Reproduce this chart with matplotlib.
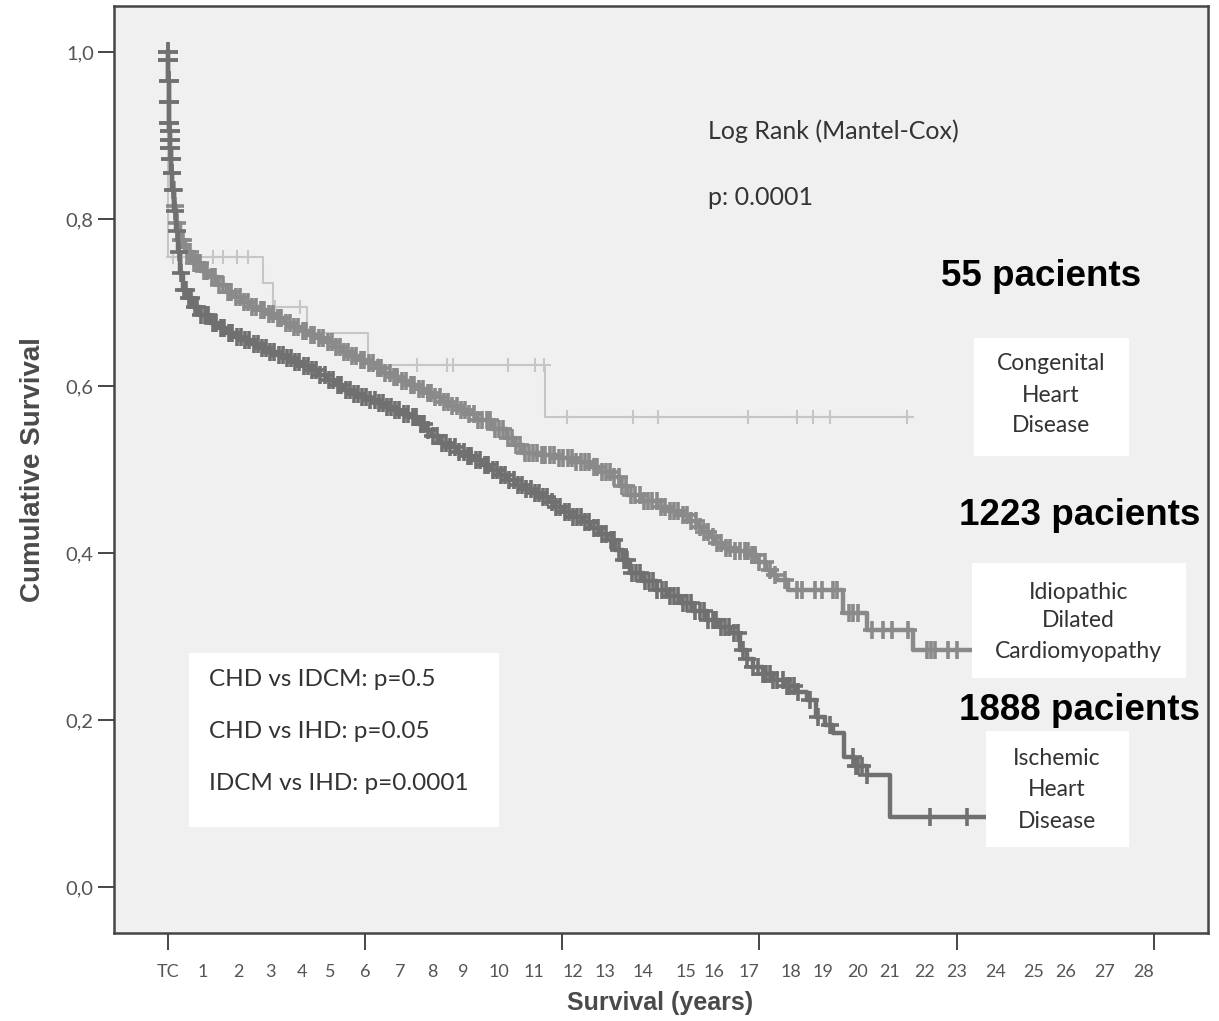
import numpy as np
import matplotlib
matplotlib.use("Agg")
import matplotlib.pyplot as plt
from matplotlib.patches import Rectangle

# ---- datos (tiempo en años, supervivencia acumulada) ----
ihd_t = [0, 0.005, 0.015, 0.025, 0.035, 0.045, 0.055, 0.065, 0.08, 0.1, 0.13, 0.17, 0.22,
         0.28, 0.35, 0.43, 0.55, 0.71, 0.9, 1.19, 1.45, 1.68, 1.9, 2.13, 2.37, 2.61, 2.85,
         3.1, 3.33, 3.55, 3.8, 4.03, 4.27, 4.52, 4.75, 4.97, 5.2, 5.45, 5.7, 5.94, 6.15,
         6.39, 6.6, 6.87, 7.1, 7.3, 7.5, 7.73, 7.95, 8.2, 8.45, 8.67, 8.9, 9.15, 9.4, 9.62,
         9.85, 10.1, 10.35, 10.57, 10.8, 11.0, 11.25, 11.5, 11.75, 12.0, 12.25, 12.47, 12.7,
         12.92, 13.12, 13.5, 13.89, 14.2, 14.54, 14.9, 15.31, 15.65, 15.96, 16.25, 16.45,
         16.61, 16.9, 17.18, 17.5, 17.86, 18.15, 18.4, 18.65, 18.9, 19.2, 19.5, 19.85, 20.5]
ihd_s = [1.0, 0.99, 0.965, 0.94, 0.915, 0.905, 0.895, 0.885, 0.872, 0.855, 0.835, 0.81,
         0.785, 0.76, 0.735, 0.715, 0.705, 0.695, 0.685, 0.675, 0.669, 0.663, 0.659, 0.655,
         0.650, 0.646, 0.641, 0.637, 0.633, 0.629, 0.624, 0.619, 0.613, 0.607, 0.601, 0.595,
         0.591, 0.587, 0.583, 0.580, 0.575, 0.571, 0.567, 0.563, 0.555, 0.547, 0.540, 0.532,
         0.527, 0.521, 0.516, 0.511, 0.505, 0.499, 0.493, 0.487, 0.482, 0.477, 0.472, 0.467,
         0.461, 0.455, 0.449, 0.443, 0.437, 0.430, 0.423, 0.416, 0.404, 0.392, 0.376, 0.366,
         0.356, 0.348, 0.340, 0.330, 0.320, 0.312, 0.304, 0.284, 0.273, 0.263, 0.255, 0.248,
         0.241, 0.234, 0.224, 0.204, 0.194, 0.184, 0.156, 0.145, 0.134, 0.084]
ihd_end = 23.2
ihd_cens = [0.003, 0.012, 0.02, 0.03, 0.04, 0.05, 0.06, 0.07, 0.09, 0.11, 0.15, 0.19, 0.25,
            0.31, 0.38, 0.46, 0.52, 0.6, 0.66, 0.76, 0.83, 0.95, 1.05, 1.15, 1.27, 1.36, 1.5,
            1.6, 1.73, 1.83, 1.97, 2.08, 2.2, 2.3, 2.44, 2.55, 2.67, 2.78, 2.9, 3.02, 3.15,
            3.26, 3.38, 3.5, 3.62, 3.73, 3.86, 3.97, 4.1, 4.2, 4.33, 4.45, 4.58, 4.7, 4.82,
            4.93, 5.05, 5.16, 5.28, 5.4, 5.52, 5.63, 5.75, 5.88, 6.0, 6.1, 6.22, 6.35, 6.46,
            6.57, 6.7, 6.82, 6.95, 7.05, 7.18, 7.28, 7.4, 7.52, 7.64, 7.78, 7.9, 8.02, 8.15,
            8.27, 8.4, 8.52, 8.62, 8.75, 8.87, 9.0, 9.1, 9.23, 9.35, 9.47, 9.58, 9.7, 9.82,
            9.95, 10.05, 10.18, 10.3, 10.42, 10.53, 10.65, 10.77, 10.9, 11.02, 11.13, 11.27,
            11.38, 11.5, 11.62, 11.73, 11.85, 11.97, 12.1, 12.22, 12.33, 12.45, 12.58, 12.68,
            12.8, 12.95, 13.05, 13.18, 13.3, 13.42, 13.55, 13.66, 13.78, 13.9, 14.03, 14.15,
            14.27, 14.38, 14.5, 14.63, 14.75, 14.86, 14.98, 15.1, 15.22, 15.35, 15.47, 15.58,
            15.7, 15.83, 15.95, 16.07, 16.2, 16.33, 16.45, 16.61, 16.75, 16.9, 17.0, 17.1,
            17.2, 17.3, 17.47, 17.58, 17.67, 17.78, 17.89, 18.23, 18.46, 18.8, 19.45, 19.55,
            19.6, 19.72, 19.86, 21.64, 22.69]

idcm_t = [0, 0.005, 0.015, 0.025, 0.035, 0.045, 0.055, 0.065, 0.08, 0.1, 0.13, 0.17, 0.22,
          0.34, 0.5, 0.71, 0.95, 1.19, 1.43, 1.68, 1.9, 2.13, 2.37, 2.61, 2.85, 3.1, 3.33,
          3.55, 3.8, 4.03, 4.27, 4.52, 4.75, 4.97, 5.2, 5.45, 5.7, 5.94, 6.15, 6.39, 6.6,
          6.87, 7.1, 7.36, 7.55, 7.81, 8.05, 8.29, 8.5, 8.78, 9.2, 9.62, 9.85, 10.09, 10.6,
          11.05, 11.5, 11.99, 12.3, 12.64, 12.85, 13.04, 13.45, 13.89, 14.2, 14.54, 14.8,
          15.02, 15.2, 15.39, 15.55, 15.76, 16.1, 16.53, 16.75, 17.0, 17.15, 17.3, 17.6,
          19.17, 19.85, 21.16]
idcm_s = [1.0, 0.99, 0.965, 0.94, 0.915, 0.905, 0.895, 0.885, 0.872, 0.855, 0.835, 0.815,
          0.795, 0.775, 0.76, 0.747, 0.738, 0.730, 0.721, 0.713, 0.706, 0.700, 0.695, 0.691,
          0.686, 0.681, 0.676, 0.671, 0.666, 0.661, 0.657, 0.653, 0.647, 0.641, 0.636, 0.631,
          0.627, 0.622, 0.616, 0.611, 0.606, 0.601, 0.596, 0.592, 0.587, 0.581, 0.576, 0.571,
          0.566, 0.559, 0.549, 0.538, 0.529, 0.520, 0.517, 0.514, 0.509, 0.503, 0.497, 0.491,
          0.480, 0.469, 0.462, 0.455, 0.450, 0.446, 0.438, 0.431, 0.425, 0.419, 0.412, 0.406,
          0.402, 0.398, 0.389, 0.380, 0.374, 0.368, 0.356, 0.328, 0.308, 0.284]
idcm_end = 22.8
idcm_cens = [0.004, 0.01, 0.018, 0.028, 0.038, 0.048, 0.058, 0.068, 0.085, 0.12, 0.16, 0.2,
             0.27, 0.36, 0.44, 0.55, 0.63, 0.74, 0.82, 0.92, 1.02, 1.12, 1.24, 1.33, 1.46,
             1.56, 1.7, 1.8, 1.94, 2.04, 2.17, 2.27, 2.4, 2.5, 2.64, 2.74, 2.88, 2.98, 3.12,
             3.22, 3.36, 3.46, 3.58, 3.7, 3.83, 3.93, 4.06, 4.16, 4.3, 4.4, 4.55, 4.65, 4.78,
             4.88, 5.0, 5.12, 5.24, 5.34, 5.48, 5.58, 5.72, 5.82, 5.96, 6.06, 6.18, 6.3, 6.42,
             6.52, 6.64, 6.76, 6.9, 7.0, 7.13, 7.24, 7.38, 7.48, 7.6, 7.72, 7.84, 7.96, 8.08,
             8.2, 8.32, 8.44, 8.55, 8.68, 8.8, 8.92, 9.05, 9.15, 9.28, 9.4, 9.52, 9.65, 9.77,
             9.9, 10.0, 10.13, 10.25, 10.38, 10.48, 10.62, 10.72, 10.85, 10.97, 11.1, 11.22,
             11.35, 11.47, 11.6, 11.72, 11.85, 11.97, 12.1, 12.2, 12.33, 12.45, 12.56, 12.68,
             12.8, 12.9, 13.02, 13.15, 13.27, 13.4, 13.52, 13.64, 13.76, 13.88, 14.0, 14.12,
             14.25, 14.37, 14.5, 14.62, 14.75, 14.87, 15.0, 15.1, 15.22, 15.35, 15.47, 15.6,
             15.72, 15.85, 15.97, 16.1, 16.25, 16.38, 16.47, 16.6, 16.67, 16.8, 16.96, 17.1,
             17.24, 17.52, 17.87, 18.0, 18.38, 18.57, 18.88, 19.0, 19.34, 19.45, 19.6, 19.99,
             20.31, 20.56, 21.02, 21.56, 21.67, 21.78, 22.15, 22.41]

chd_t = [0, 0.01, 2.7, 2.98, 3.95, 5.68, 10.72]
chd_s = [1.0, 0.754, 0.723, 0.695, 0.663, 0.625, 0.563]
chd_end = 21.16
chd_cens = [0.14, 0.4, 0.54, 1.28, 1.56, 1.96, 2.27, 3.04, 3.75, 5.96, 7.07, 7.92, 8.09,
            9.66, 10.42, 10.68, 11.33, 13.21, 13.92, 16.47, 17.86, 18.32, 18.8, 20.99]

# etiquetas del eje x (posiciones tal como aparecen en la figura)
xlabels = ["TC"] + [str(i) for i in range(1, 29)]
xlabel_pos = [0, 1.0, 2.0, 2.9, 3.8, 4.6, 5.6, 6.6, 7.5, 8.4, 9.4, 10.4, 11.5, 12.4, 13.5,
              14.7, 15.5, 16.5, 17.7, 18.6, 19.6, 20.5, 21.5, 22.4, 23.5, 24.6, 25.5, 26.6,
              27.7]
xmarks = [0, 5.6, 11.2, 16.8, 22.4, 28.0]
yticks = [0.0, 0.2, 0.4, 0.6, 0.8, 1.0]
ylabels = ["0,0", "0,2", "0,4", "0,6", "0,8", "1,0"]

pvals = ["CHD vs IDCM: p=0.5", "CHD vs IHD: p=0.05", "IDCM vs IHD: p=0.0001"]

CAL = ["Lato", "DejaVu Sans"]
ARL = ["Liberation Sans", "DejaVu Sans"]


def step_at(t, s, c):
    t = np.asarray(t)
    s = np.asarray(s)
    return s[np.searchsorted(t, c, side="right") - 1]


def km(ax, t, s, end, cens, color, lw, ms, mew, z):
    tt = list(t) + [end]
    ss = list(s) + [s[-1]]
    ax.step(tt, ss, where="post", color=color, lw=lw, zorder=z)
    c = np.asarray(cens)
    cy = step_at(t, s, c)
    early = c < 0.1
    # las marcas sobre la caida inicial (TC) son mas anchas
    ax.plot(c[early], cy[early], ls="none", marker="+", ms=ms + 2, mew=mew,
            color=color, zorder=z)
    ax.plot(c[~early], cy[~early], ls="none", marker="+", ms=ms, mew=mew,
            color=color, zorder=z)


fig = plt.figure(figsize=(12.19, 10.21), dpi=100)
ax = fig.add_axes([114 / 1219, 1 - 933 / 1021, 1094 / 1219, 927 / 1021])
ax.set_facecolor("#f0f0f0")

km(ax, chd_t, chd_s, chd_end, chd_cens, "#c6c6c6", 1.5, 10, 1.5, 2)
km(ax, idcm_t, idcm_s, idcm_end, idcm_cens, "#8a8a8a", 3.2, 12.5, 2.6, 3)
km(ax, ihd_t, ihd_s, ihd_end, ihd_cens, "#707070", 3.2, 12.5, 2.6, 4)

ax.set_xlim(-1.53, 29.54)
ax.set_ylim(-0.055, 1.055)

for sp in ax.spines.values():
    sp.set_color("#454545")
    sp.set_linewidth(1.8)

ax.set_yticks(yticks)
ax.set_yticklabels(ylabels, family=CAL, fontsize=14.5, color="#555555")
ax.tick_params(axis="y", length=11.5, width=1.4, color="#454545", pad=3)

ax.xaxis.remove_overlapping_locs = False
ax.set_xticks(xlabel_pos)
ax.set_xticklabels(xlabels, family=CAL, fontsize=13, color="#555555")
ax.tick_params(axis="x", which="major", length=0, pad=22)
ax.set_xticks(xmarks, minor=True)
ax.tick_params(axis="x", which="minor", length=12, width=1.4, color="#454545")

ax.set_xlabel("Survival (years)", family=ARL, fontsize=18, fontweight="bold",
              color="#4a4a4a", va="center")
ax.xaxis.set_label_coords(0.499, -0.0755)
ax.set_ylabel("Cumulative Survival", family=ARL, fontsize=20, fontweight="bold",
              color="#4a4a4a", va="center")
ax.yaxis.set_label_coords(-0.074, 0.4995)

# textos
ax.text(15.34, 0.905, "Log Rank (Mantel-Cox)", family=CAL, fontsize=18, color="#333333",
        va="center")
ax.text(15.34, 0.826, "p: 0.0001", family=CAL, fontsize=18, color="#333333", va="center")

ax.text(24.79, 0.731, "55 pacients", family=ARL, fontsize=26.5, fontweight="bold",
        ha="center", va="center")
ax.text(25.9, 0.4455, "1223 pacients", family=ARL, fontsize=26.5, fontweight="bold",
        ha="center", va="center")
ax.text(25.9, 0.212, "1888 pacients", family=ARL, fontsize=26.5, fontweight="bold",
        ha="center", va="center")

# cajas blancas con las etiquetas de grupo
boxes = [
    ((22.89, 0.516), 4.40, 0.141, 25.08, [0.627, 0.589, 0.553],
     ["Congenital", "Heart", "Disease"]),
    ((22.83, 0.250), 6.08, 0.138, 25.87, [0.353, 0.319, 0.282],
     ["Idiopathic", "Dilated", "Cardiomyopathy"]),
    ((23.23, 0.048), 4.06, 0.139, 25.25, [0.154, 0.117, 0.078],
     ["Ischemic", "Heart", "Disease"]),
]
for (x0, y0), w, h, xc, ys, lines in boxes:
    ax.add_patch(Rectangle((x0, y0), w, h, facecolor="white", edgecolor="none", zorder=5))
    for yy, ln in zip(ys, lines):
        ax.text(xc, yy, ln, family=CAL, fontsize=16.5, color="#333333", ha="center",
                va="center", zorder=6)

ax.add_patch(Rectangle((0.6, 0.072), 8.8, 0.208, facecolor="white", edgecolor="none",
                       zorder=5))
for yy, ln in zip([0.248, 0.186, 0.124], pvals):
    ax.text(1.16, yy, ln, family=CAL, fontsize=17.5, color="#333333", va="center", zorder=6)

fig.savefig("out.png", dpi=100, facecolor="white")
